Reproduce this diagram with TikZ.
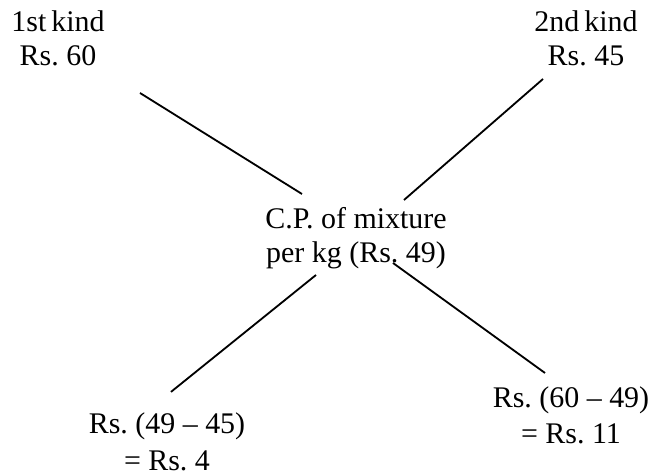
\documentclass[tikz,border=0pt]{standalone}
\usepackage{fontspec}
\setmainfont{Liberation Serif}
\newcommand\pricefont{\fontsize{21.3}{24.1}\selectfont}
\tikzset{
  price/.style={align=center, inner sep=0pt, font=\pricefont},
  cross/.style={line width=1.3pt}
}
\begin{document}
\begin{tikzpicture}[x=1cm,y=1cm]
\useasboundingbox (0,0) rectangle (16.325,11.875);

\node[price] (kind1) at (1.45,10.925) {1st\,kind\\Rs.~60};
\node[price] (kind2) at (14.65,10.925) {2nd\,kind\\Rs.~45};
\node[price] (mix) at (8.9,5.925) {C.P. of mixture\\per kg (Rs.\ 49)};
\node[price] (diffL) at (4.175,0.8375) {Rs.\ (49 -- 45)\\[2.1pt]= Rs.\ 4};
\node[price] (diffR) at (14.275,1.5) {Rs.\ (60 -- 49)\\[1.4pt]= Rs.\ 11};

\draw[cross] ([shift={(2.05,-1.375)}]kind1.center) -- ([shift={(-1.35,1.1)}]mix.center);
\draw[cross] ([shift={(-1.075,-1.025)}]kind2.center) -- ([shift={(1.2,0.95)}]mix.center);
\draw[cross] ([shift={(-1.0,-0.925)}]mix.center) -- ([shift={(0.1,1.24)}]diffL.center);
\draw[cross] ([shift={(0.925,-0.625)}]mix.center) -- ([shift={(-0.65,1.05)}]diffR.center);
\end{tikzpicture}
\end{document}
